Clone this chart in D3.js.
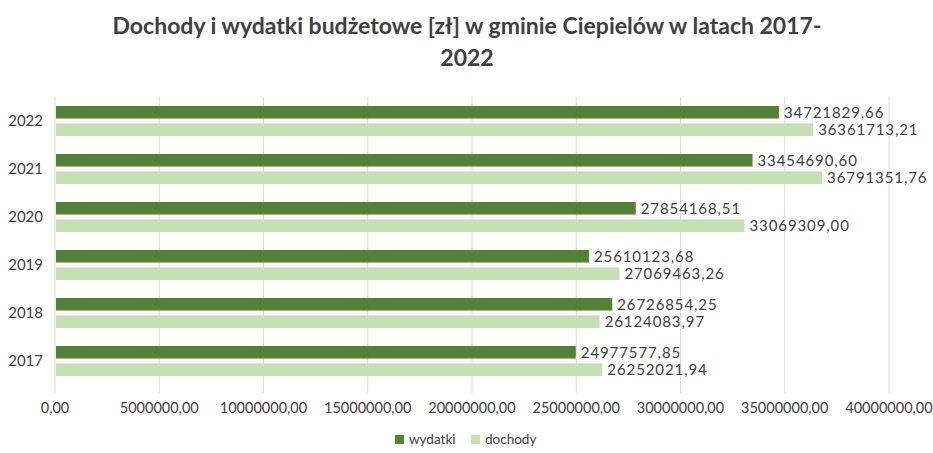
<!DOCTYPE html>
<html>
<head>
<meta charset="utf-8">
<script src="https://cdn.jsdelivr.net/npm/d3@7"></script>
<style>
  body { margin: 0; background: #fff; }
  text { font-family: Lato, "Open Sans", sans-serif; fill: #404040; }
</style>
</head>
<body>
<div id="chart"></div>
<script>
// data
var years = ["2017", "2018", "2019", "2020", "2021", "2022"];
var wydatki = [24977577.85, 26726854.25, 25610123.68, 27854168.51, 33454690.60, 34721829.66];
var dochody = [26252021.94, 26124083.97, 27069463.26, 33069309.00, 36791351.76, 36361713.21];
var seriesNames = ["wydatki", "dochody"];
var colors = ["#548235", "#c5e0b4"];
var xTicks = [0, 5000000, 10000000, 15000000, 20000000, 25000000, 30000000, 35000000, 40000000];

var W = 933, H = 453;
var margin = {top: 97, left: 55, right: 44, bottom: 68};
var width = W - margin.left - margin.right,
    height = H - margin.top - margin.bottom;

var fmt = function(v) { return v.toFixed(2).replace(".", ","); };

var svg = d3.select("#chart").append("svg")
    .attr("width", W).attr("height", H);

// title
svg.append("text").attr("x", 467).attr("y", 34).attr("text-anchor", "middle")
    .style("font-size", "23px").style("font-weight", "bold")
    .text("Dochody i wydatki budżetowe [zł] w gminie Ciepielów w latach 2017-");
svg.append("text").attr("x", 467).attr("y", 66).attr("text-anchor", "middle")
    .style("font-size", "23px").style("font-weight", "bold")
    .text("2022");

var g = svg.append("g").attr("transform", "translate(" + margin.left + "," + margin.top + ")");

var x = d3.scaleLinear().domain([0, 40000000]).range([0, width]);
// 2022 on top
var y = d3.scaleBand().domain(years.slice().reverse()).range([0, height]).paddingInner(0.375).paddingOuter(0.1875);
var ySub = d3.scaleBand().domain(seriesNames).range([0, y.bandwidth()]).paddingInner(0.28);

// gridlines
g.selectAll(".grid").data(xTicks).enter().append("line")
    .attr("x1", function(d) { return x(d); }).attr("x2", function(d) { return x(d); })
    .attr("y1", 0).attr("y2", height + 8)
    .attr("stroke", "#d9d9d9").attr("stroke-width", 1);

// x axis labels
g.selectAll(".xl").data(xTicks).enter().append("text")
    .attr("x", function(d) { return x(d); }).attr("y", height + 28)
    .attr("text-anchor", "middle").style("font-size", "14.5px")
    .text(function(d) { return fmt(d); });

// y labels
g.selectAll(".yl").data(years).enter().append("text")
    .attr("x", -12).attr("y", function(d) { return y(d) + y.bandwidth() / 2 + 5; })
    .attr("text-anchor", "end").style("font-size", "15px")
    .text(function(d) { return d; });

var rows = [];
years.forEach(function(yr, i) {
  rows.push({year: yr, s: "wydatki", v: wydatki[i], c: colors[0]});
  rows.push({year: yr, s: "dochody", v: dochody[i], c: colors[1]});
});

g.selectAll(".bar").data(rows).enter().append("rect")
    .attr("x", x(0) + 1)
    .attr("y", function(d) { return y(d.year) + ySub(d.s); })
    .attr("width", function(d) { return x(d.v) - x(0) - 1; })
    .attr("height", ySub.bandwidth())
    .attr("fill", function(d) { return d.c; });

g.selectAll(".lbl").data(rows).enter().append("text")
    .attr("x", function(d) { return x(d.v) + 5; })
    .attr("y", function(d) { return y(d.year) + ySub(d.s) + ySub.bandwidth() / 2 + 5.5; })
    .style("font-size", "15px").style("letter-spacing", "0.9px")
    .text(function(d) { return fmt(d.v); });

// legend
var legX = [395, 471];
var leg = svg.selectAll(".leg").data(seriesNames).enter().append("g")
    .attr("transform", function(d, i) { return "translate(" + legX[i] + ",435)"; });
leg.append("rect").attr("width", 9).attr("height", 9).attr("fill", function(d, i) { return colors[i]; });
leg.append("text").attr("x", 14).attr("y", 9).style("font-size", "13.5px").text(function(d) { return d; });
</script>
</body>
</html>
